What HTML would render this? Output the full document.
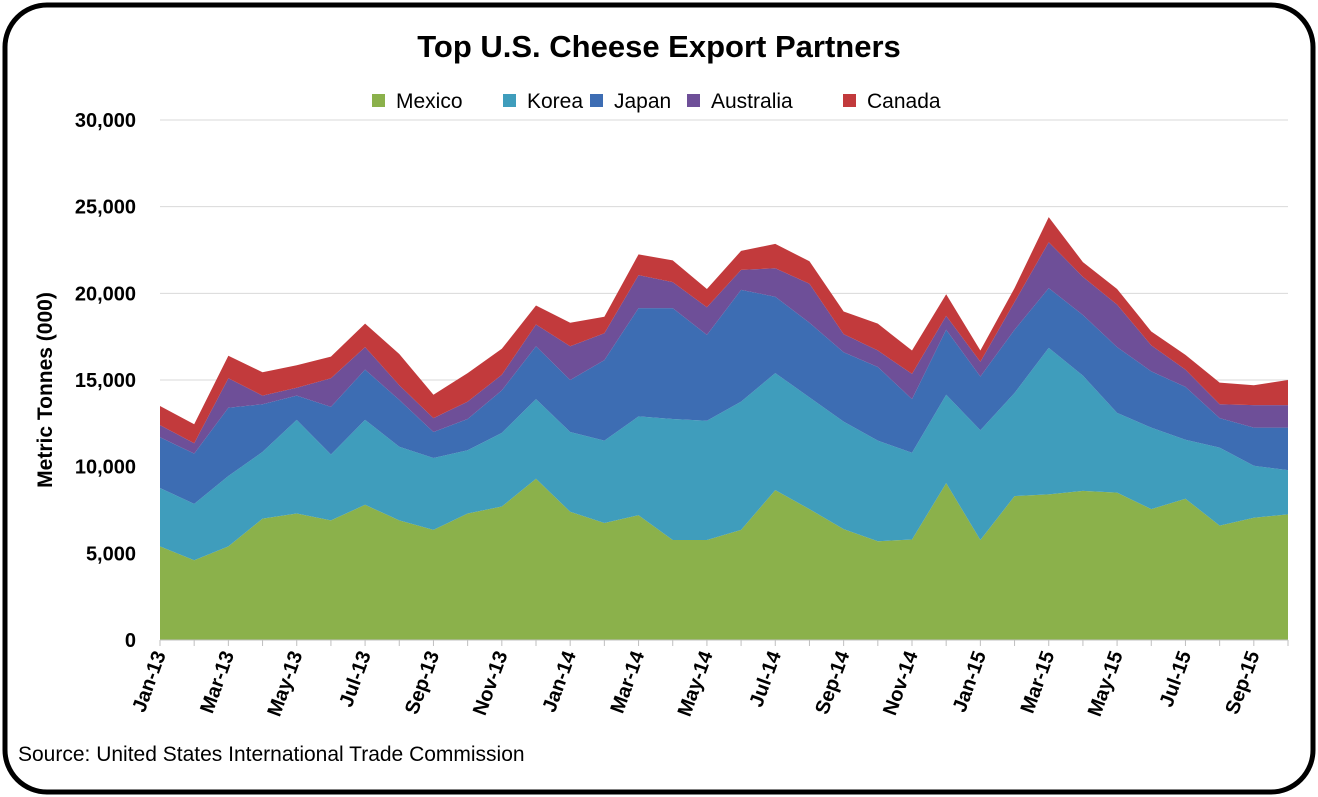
<!DOCTYPE html>
<html><head><meta charset="utf-8"><style>
body{margin:0;background:#fff;font-family:"Liberation Sans",sans-serif}
svg{display:block}
</style></head><body>
<svg id="chart" width="1318" height="797">
<rect x="5" y="5" width="1308" height="787" rx="42" ry="42" fill="#fff" stroke="#000" stroke-width="5"/>
<text x="659" y="57" text-anchor="middle" font-size="31" font-weight="bold" fill="#000">Top U.S. Cheese Export Partners</text>
<g id="legend"></g>
<g id="grid"></g>
<g id="areas"></g>
<g id="axes"></g>
<text transform="translate(52,390) rotate(-90)" text-anchor="middle" font-size="21" font-weight="bold">Metric Tonnes (000)</text>
<text x="18" y="761" font-size="21" fill="#000">Source: United States International Trade Commission</text>
</svg>
<script>
const months = ["Jan-13","Feb-13","Mar-13","Apr-13","May-13","Jun-13","Jul-13","Aug-13","Sep-13","Oct-13","Nov-13","Dec-13","Jan-14","Feb-14","Mar-14","Apr-14","May-14","Jun-14","Jul-14","Aug-14","Sep-14","Oct-14","Nov-14","Dec-14","Jan-15","Feb-15","Mar-15","Apr-15","May-15","Jun-15","Jul-15","Aug-15","Sep-15","Oct-15"];
const mexico = [5400,4600,5400,7000,7300,6900,7800,6900,6350,7300,7700,9300,7400,6750,7200,5770,5770,6350,8650,7550,6400,5700,5800,9050,5770,8300,8400,8600,8500,7550,8150,6600,7050,7250];
const korea = [3370,3250,4060,3850,5400,3800,4900,4250,4150,3650,4250,4600,4600,4750,5700,6980,6880,7400,6750,6450,6200,5800,5000,5100,6330,5950,8450,6650,4600,4700,3400,4500,3000,2550];
const japan = [2930,2900,3940,2750,1400,2750,2900,2700,1500,1800,2450,3050,3000,4650,6250,6400,4950,6450,4400,4300,4000,4250,3100,3750,3100,3650,3450,3500,3800,3250,3050,1700,2200,2450];
const australia = [700,600,1700,500,450,1650,1300,850,800,1000,900,1250,1950,1550,1900,1500,1600,1150,1650,2250,1050,950,1450,800,850,1600,2650,2200,2450,1500,1000,800,1300,1300];
const canada = [1100,1100,1300,1350,1300,1250,1350,1800,1350,1650,1500,1100,1350,950,1200,1250,1050,1100,1400,1300,1300,1550,1350,1250,650,800,1450,850,900,800,850,1250,1150,1450];
const seriesNames = ["Mexico","Korea","Japan","Australia","Canada"];
const seriesColors = ["#8BB14B","#3F9DBC","#3D6DB3","#6E4F98","#C23A3C"];
const yTicks = [0,5000,10000,15000,20000,25000,30000];

const NS="http://www.w3.org/2000/svg";
const X0=160,X1=1288,Y0=640,Y1=120,YMAX=30000;
const xs=i=>X0+(X1-X0)*i/(months.length-1);
const ys=v=>Y0-(Y0-Y1)*v/YMAX;
function mk(tag,attrs,parent){const e=document.createElementNS(NS,tag);for(const k in attrs)e.setAttribute(k,attrs[k]);parent.appendChild(e);return e;}
const grid=document.getElementById('grid'),areas=document.getElementById('areas'),axes=document.getElementById('axes'),legend=document.getElementById('legend');
yTicks.forEach(t=>{
  if(t>0){const l=mk('line',{x1:X0,x2:X1,y1:ys(t),y2:ys(t),stroke:'#d9d9d9','stroke-width':1},grid);
  
  }
  const tx=mk('text',{x:136,y:ys(t)+7,'text-anchor':'end','font-size':20,'font-weight':'bold'},axes);
  tx.textContent=t.toLocaleString('en-US');
  
  
});
const data=[mexico,korea,japan,australia,canada];
let base=months.map(()=>0);
data.forEach((s,si)=>{
  const top=base.map((b,i)=>b+s[i]);
  let d='M'+months.map((m,i)=>xs(i)+','+ys(top[i])).join(' L');
  for(let i=months.length-1;i>=0;i--)d+=' L'+xs(i)+','+ys(base[i]);
  d+='Z';
  const p=mk('path',{d:d,fill:seriesColors[si]},areas);
  
  
  base=top;
});
const ax=mk('line',{x1:X0,x2:X1,y1:Y0,y2:Y0,stroke:'#bfbfbf','stroke-width':1},axes);


months.forEach((m,i)=>{
  const tk=mk('line',{x1:xs(i),x2:xs(i),y1:Y0,y2:Y0+6,stroke:'#bfbfbf'},axes);
  
  
  if(i%2===0){
    const t=mk('text',{transform:`translate(${xs(i)+6},${Y0+14}) rotate(-70)`,'text-anchor':'end','font-size':20,'font-weight':'bold'},axes);
    t.textContent=m;
    
    
  }
});
const lx=[396,527,614,711,867];
seriesNames.forEach((n,i)=>{
  const r=mk('rect',{x:lx[i]-24,y:94,width:13,height:13,fill:seriesColors[i]},legend);
  
  
  const t=mk('text',{x:lx[i],y:108,'font-size':21},legend);
  t.textContent=n;
  
  
});
</script>
</body></html>
